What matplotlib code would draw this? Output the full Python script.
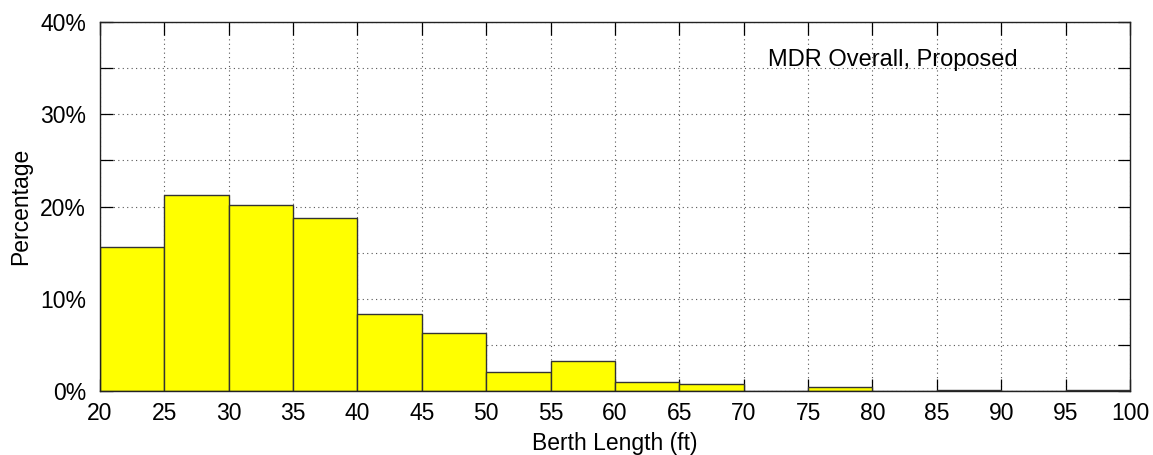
import matplotlib
matplotlib.use("Agg")
import matplotlib.pyplot as plt
from matplotlib.ticker import MultipleLocator, FuncFormatter

# histogram bins (ft) and share of berths per bin (%)
bin_edges = [20, 25, 30, 35, 40, 45, 50, 55, 60, 65, 70, 75, 80, 85, 90, 95, 100]
percentages = [15.6, 21.3, 20.2, 18.8, 8.4, 6.3, 2.1, 3.3, 0.94, 0.8, 0.05, 0.43, 0.0, 0.08, 0.0, 0.08]
x_ticks = list(range(20, 101, 5))
y_ticks = [0, 10, 20, 30, 40]

plt.rcParams["font.family"] = ["Liberation Sans", "DejaVu Sans"]

fig = plt.figure(figsize=(11.53, 4.55), dpi=100)
ax = fig.add_axes([0.0867, 0.1407, 0.8933, 0.8109])

lefts = bin_edges[:-1]
widths = [b - a for a, b in zip(bin_edges[:-1], bin_edges[1:])]
ax.bar(lefts, percentages, width=widths, align="edge", color="#ffff00",
       edgecolor="#333333", linewidth=1.0, zorder=2)

ax.set_xlim(20, 100)
ax.set_ylim(0, 40)
ax.set_xticks(x_ticks)
ax.set_yticks(y_ticks)
ax.yaxis.set_minor_locator(MultipleLocator(5))
ax.yaxis.set_major_formatter(FuncFormatter(lambda v, _: f"{v:.0f}%"))

ax.grid(True, which="both", axis="both", linestyle=(0, (1, 3)), color="#555555",
        linewidth=0.8, zorder=1)
ax.set_axisbelow(True)

ax.tick_params(axis="both", which="both", direction="in", top=True, right=True,
               labelsize=16.5, length=9, width=0.9)
ax.tick_params(axis="x", pad=8)
ax.tick_params(axis="y", which="both", pad=10)
for s in ax.spines.values():
    s.set_linewidth(1.0)
    s.set_color("#222222")

ax.set_xlabel("Berth Length (ft)", fontsize=16.5, labelpad=5)
ax.set_ylabel("Percentage", fontsize=16.5, labelpad=6)

ax.text(0.77, 0.897, "MDR Overall, Proposed", transform=ax.transAxes,
        fontsize=17, ha="center", va="center", zorder=3)

fig.savefig("out.png", dpi=100)
